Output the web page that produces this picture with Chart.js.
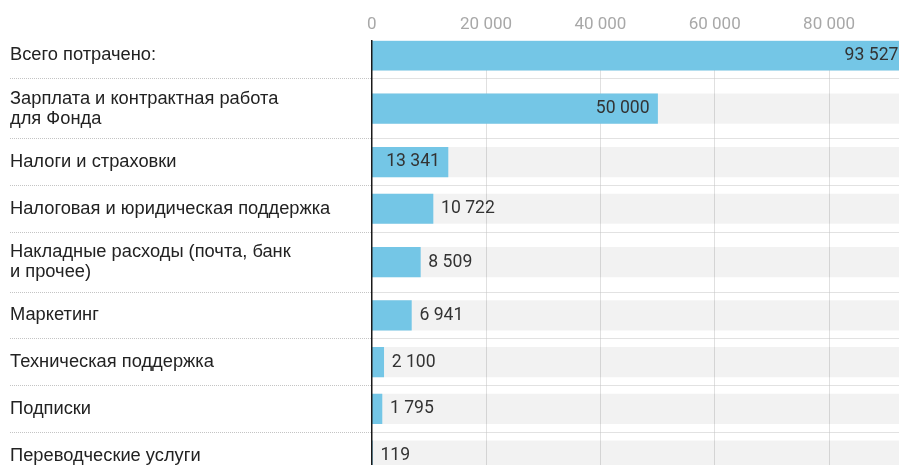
<!DOCTYPE html>
<html lang="ru">
<head>
<meta charset="utf-8">
<title>Расходы</title>
<script src="https://cdn.jsdelivr.net/npm/chart.js@4.4.1/dist/chart.umd.min.js"></script>
<style>
    html, body { margin: 0; padding: 0; background: #fff; overflow: hidden; }
    #wrap { width: 899px; height: 465px; }
</style>
</head>
<body>
<div id="wrap"><canvas id="spend-chart" width="899" height="465"></canvas></div>
<script>
// Данные графика
const categories = [
    'Всего потрачено:',
    ['Зарплата и контрактная работа', 'для Фонда'],
    'Налоги и страховки',
    'Налоговая и юридическая поддержка',
    ['Накладные расходы (почта, банк', 'и прочее)'],
    'Маркетинг',
    'Техническая поддержка',
    'Подписки',
    'Переводческие услуги'
];
const amounts = [93527, 50000, 13341, 10722, 8509, 6941, 2100, 1795, 119];
const axisTicks = [0, 20000, 40000, 60000, 80000];

const X_MAX = 92230;          // правый край области графика
const ROW_SINGLE = 46.7;      // высота строки с одной строкой подписи
const ROW_DOUBLE = 60;        // высота строки с двумя строками подписи
const LABEL_PAD = 8;
const BAR_BLUE = '#74c6e6';

function formatNumber(v) {
    return String(v).replace(/\B(?=(\d{3})+(?!\d))/g, ' ');
}

// Границы и центры строк считаются по числу строк в подписи
const rowBounds = [0];
const rowCenters = [];
categories.forEach(label => {
    const top = rowBounds[rowBounds.length - 1];
    const h = Array.isArray(label) ? ROW_DOUBLE : ROW_SINGLE;
    rowCenters.push(top + h / 2);
    rowBounds.push(top + h);
});

const Y_MIN = 8.7;
const Y_MAX = 433;

const isRowTick = ctx => ctx.tick && ctx.tick.row !== undefined;

/**
 * Подписи значений у концов столбцов.
 */
const valueLabels = {
    id: 'valueLabels',
    afterDatasetsDraw(chart) {
        const ctx = chart.ctx;
        const meta = chart.getDatasetMeta(0);
        ctx.save();
        ctx.font = '17.6px Roboto';
        ctx.fillStyle = '#333';
        ctx.textBaseline = 'middle';
        meta.data.forEach((bar, i) => {
            const text = formatNumber(amounts[i]);
            const w = ctx.measureText(text).width;
            if (bar.x - bar.base >= w + 2 * LABEL_PAD) {
                ctx.textAlign = 'right';
                ctx.fillText(text, bar.x - LABEL_PAD, bar.y);
            } else {
                ctx.textAlign = 'left';
                ctx.fillText(text, bar.x + LABEL_PAD, bar.y);
            }
        });
        ctx.restore();
    }
};

const chart = new Chart(document.getElementById('spend-chart'), {
    type: 'bar',
    data: {
        datasets: [
            {
                label: 'Потрачено',
                data: amounts.map((v, i) => ({ x: v, y: rowCenters[i] })),
                backgroundColor: BAR_BLUE,
                order: 1
            },
            {
                label: 'Фон',
                data: amounts.map((v, i) => ({ x: X_MAX, y: rowCenters[i] })),
                backgroundColor: 'rgba(0, 0, 0, 0.05)',
                order: 2
            }
        ]
    },
    options: {
        indexAxis: 'y',
        responsive: false,
        animation: false,
        devicePixelRatio: 1,
        layout: { padding: { left: 10, right: 0, top: 0, bottom: 0 } },
        datasets: { bar: { barThickness: 29.5, grouped: false, borderWidth: 0 } },
        plugins: {
            legend: { display: false },
            tooltip: { enabled: false }
        },
        scales: {
            x: {
                type: 'linear',
                position: 'top',
                min: 0,
                max: X_MAX,
                offset: false,
                afterBuildTicks: scale => {
                    scale.ticks = axisTicks.map(v => ({ value: v }));
                },
                afterFit: scale => {
                    scale.height = 40.7;
                    scale.paddingLeft = 0;
                    scale.paddingRight = 0;
                },
                grid: { color: '#e0e0e0', lineWidth: 1, drawTicks: false, offset: false },
                border: { display: false },
                ticks: {
                    padding: 6,
                    color: '#a8a8a8',
                    font: { family: 'Roboto', size: 17, lineHeight: 1.2 },
                    callback: v => formatNumber(v)
                }
            },
            y: {
                type: 'linear',
                reverse: true,
                min: Y_MIN,
                max: Y_MAX,
                offset: false,
                afterBuildTicks: scale => {
                    const ticks = [];
                    rowCenters.forEach((c, i) => {
                        if (c >= Y_MIN && c <= Y_MAX) ticks.push({ value: c, row: i });
                        const b = rowBounds[i + 1];
                        if (b >= Y_MIN && b <= Y_MAX) ticks.push({ value: b });
                    });
                    scale.ticks = ticks;
                },
                afterFit: scale => {
                    scale.width = 361.7;
                    scale.paddingTop = 0;
                    scale.paddingBottom = 0;
                },
                grid: {
                    offset: false,
                    color: ctx => isRowTick(ctx) ? 'rgba(0,0,0,0)' : '#c4c4c4',
                    tickColor: ctx => isRowTick(ctx) ? 'rgba(0,0,0,0)' : '#c4c4c4',
                    lineWidth: 1,
                    drawTicks: true,
                    tickLength: 361.7,
                    tickBorderDash: [1, 1]
                },
                border: { display: true, color: '#1a1a1a', width: 1.5, dash: [1, 1], z: 1 },
                ticks: {
                    autoSkip: false,
                    crossAlign: 'far',
                    padding: 0,
                    color: '#222',
                    font: { family: '"Liberation Sans", Arial, sans-serif', size: 18.3, lineHeight: 1.1 },
                    callback: (v, i, ticks) => ticks[i].row !== undefined ? categories[ticks[i].row] : ''
                }
            }
        }
    },
    plugins: [valueLabels]
});
</script>
</body>
</html>
